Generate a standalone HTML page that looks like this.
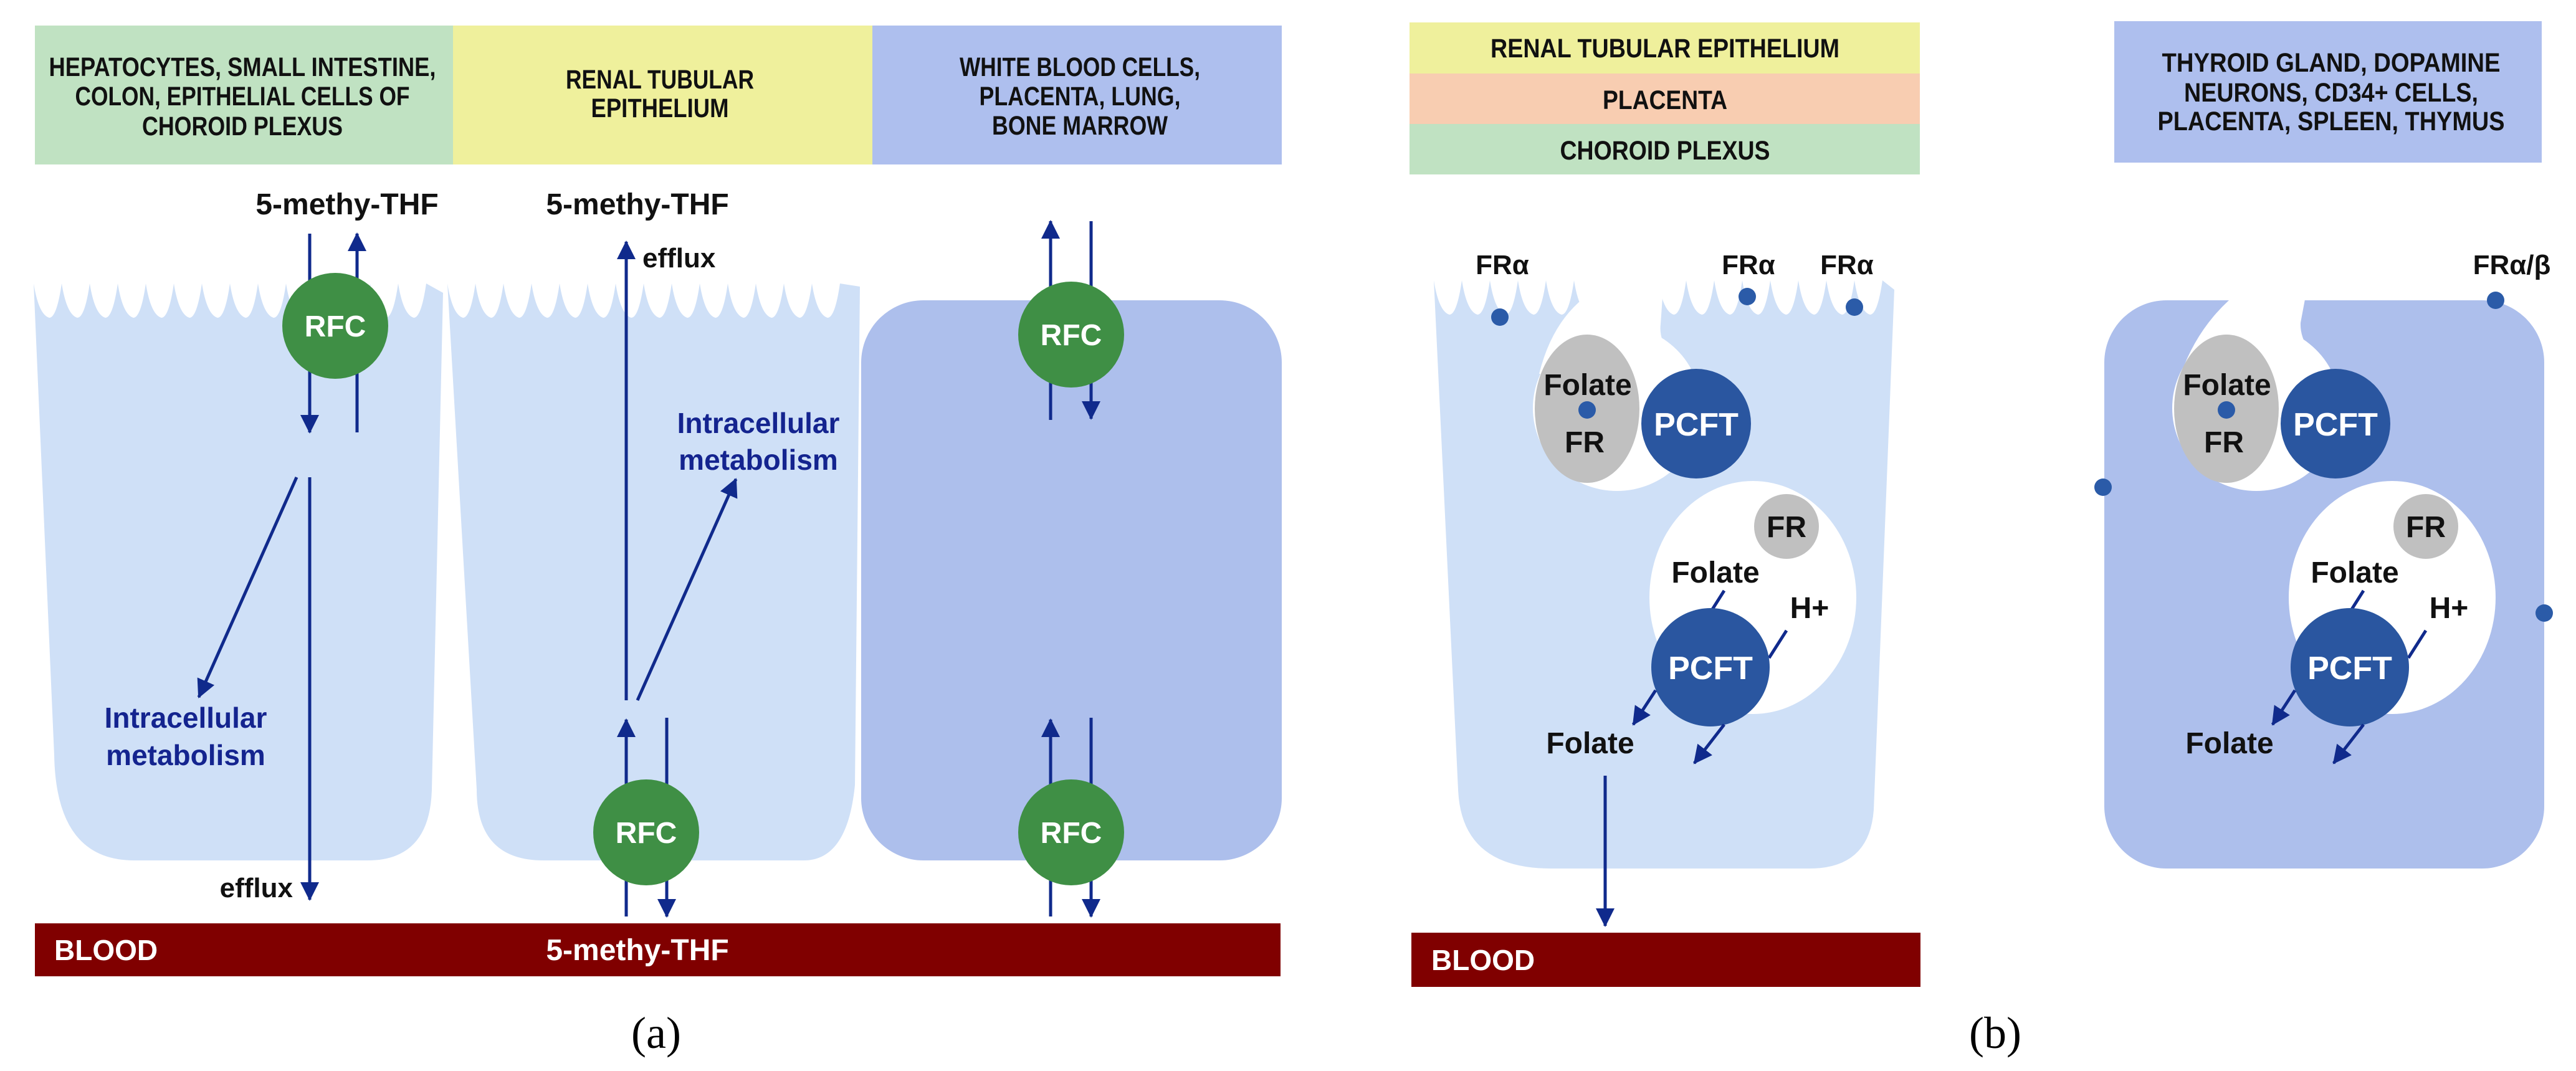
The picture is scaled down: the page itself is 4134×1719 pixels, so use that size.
<!DOCTYPE html>
<html><head><meta charset="utf-8"><style>
html,body{margin:0;padding:0;background:#fff;}
svg{display:block;}
text{font-family:"Liberation Sans Narrow","Liberation Sans",sans-serif;font-weight:bold;text-anchor:middle;}
.h{font-size:43px;fill:#111;}
.m{font-size:48px;fill:#111;}
.w{fill:#fff;}
.n{fill:#14248f;font-size:46px;}
.s{font-family:"Liberation Serif",serif;font-weight:normal;font-size:72px;fill:#000;}
</style></head><body>
<svg width="4134" height="1719" viewBox="0 0 4134 1719" xmlns="http://www.w3.org/2000/svg">
<defs>
<marker id="ah" markerUnits="userSpaceOnUse" markerWidth="30" markerHeight="34" refX="28" refY="15" orient="auto">
<path d="M0,0 L30,15 L0,30 Z" fill="#102a8c"/>
</marker>
</defs>
<g stroke="none">
<rect x="56" y="41" width="671" height="223" fill="#c0e2c2"/>
<rect x="727" y="41" width="673" height="223" fill="#eff09c"/>
<rect x="1400" y="41" width="657" height="223" fill="#aebfee"/>
</g>
<text class="h" x="389" y="122" textLength="621" lengthAdjust="spacingAndGlyphs">HEPATOCYTES, SMALL INTESTINE,</text>
<text class="h" x="389" y="169" textLength="537" lengthAdjust="spacingAndGlyphs">COLON, EPITHELIAL CELLS OF</text>
<text class="h" x="389" y="217" textLength="322" lengthAdjust="spacingAndGlyphs">CHOROID PLEXUS</text>
<text class="h" x="1059" y="142" textLength="302" lengthAdjust="spacingAndGlyphs">RENAL TUBULAR</text>
<text class="h" x="1059" y="188" textLength="221" lengthAdjust="spacingAndGlyphs">EPITHELIUM</text>
<text class="h" x="1733" y="122" textLength="386" lengthAdjust="spacingAndGlyphs">WHITE BLOOD CELLS,</text>
<text class="h" x="1733" y="169" textLength="323" lengthAdjust="spacingAndGlyphs">PLACENTA, LUNG,</text>
<text class="h" x="1733" y="216" textLength="282" lengthAdjust="spacingAndGlyphs">BONE MARROW</text>

<path fill="#cfe0f7" d="M54,455 q 8,50 25,55 q 12,0 20,-55 q 8,50 25,55 q 12,0 20,-55 q 8,50 25,55 q 12,0 20,-55 q 8,50 25,55 q 12,0 20,-55 q 8,50 25,55 q 12,0 20,-55 q 8,50 25,55 q 12,0 20,-55 q 8,50 25,55 q 12,0 20,-55 q 8,50 25,55 q 12,0 20,-55 q 8,50 25,55 q 12,0 20,-55 q 8,50 25,55 q 12,0 20,-55 q 8,50 25,55 q 12,0 20,-55 q 8,50 25,55 q 12,0 20,-55 q 8,50 25,55 q 12,0 20,-55 q 8,50 25,55 q 12,0 20,-55 L711,470 L693,1267 Q690,1381 590,1381 L215,1381 Q90,1381 87,1212 Z"/>
<path fill="#cfe0f7" d="M718,455 q 8,50 25,55 q 12,0 20,-55 q 8,50 25,55 q 12,0 20,-55 q 8,50 25,55 q 12,0 20,-55 q 8,50 25,55 q 12,0 20,-55 q 8,50 25,55 q 12,0 20,-55 q 8,50 25,55 q 12,0 20,-55 q 8,50 25,55 q 12,0 20,-55 q 8,50 25,55 q 12,0 20,-55 q 8,50 25,55 q 12,0 20,-55 q 8,50 25,55 q 12,0 20,-55 q 8,50 25,55 q 12,0 20,-55 q 8,50 25,55 q 12,0 20,-55 q 8,50 25,55 q 12,0 20,-55 q 8,50 25,55 q 12,0 20,-55 L1380,460 L1372,1260 Q1360,1381 1290,1381 L872,1381 Q765,1381 765,1267 Z"/>
<rect x="1382" y="482" width="675" height="899" rx="100" fill="#adbfec"/>

<rect x="56" y="1482" width="1999" height="85" fill="#800000"/>
<text class="w" x="87" y="1541" style="text-anchor:start;font-size:46px">BLOOD</text>
<text class="w" x="1023" y="1541" style="font-size:48px">5-methy-THF</text>

<text class="m" x="557" y="344">5-methy-THF</text>
<text class="m" x="1023" y="344">5-methy-THF</text>

<g stroke="#102a8c" stroke-width="5" fill="none" marker-end="url(#ah)">
<line x1="497" y1="375" x2="497" y2="694"/>
<line x1="573" y1="694" x2="573" y2="375"/>
<line x1="497" y1="766" x2="497" y2="1444"/>
<line x1="476" y1="766" x2="319" y2="1119"/>
<line x1="1005" y1="1124" x2="1005" y2="388"/>
<line x1="1023" y1="1124" x2="1181" y2="769"/>
<line x1="1005" y1="1471" x2="1005" y2="1155"/>
<line x1="1070" y1="1152" x2="1070" y2="1471"/>
<line x1="1686" y1="674" x2="1686" y2="355"/>
<line x1="1751" y1="355" x2="1751" y2="672"/>
<line x1="1686" y1="1471" x2="1686" y2="1155"/>
<line x1="1751" y1="1152" x2="1751" y2="1471"/>
</g>

<g fill="#3f8f45">
<circle cx="538" cy="523" r="85"/>
<circle cx="1037" cy="1336" r="85"/>
<circle cx="1719" cy="537" r="85"/>
<circle cx="1719" cy="1336" r="85"/>
</g>
<text class="w" x="538" y="540" style="font-size:48px">RFC</text>
<text class="w" x="1037" y="1353" style="font-size:48px">RFC</text>
<text class="w" x="1719" y="554" style="font-size:48px">RFC</text>
<text class="w" x="1719" y="1353" style="font-size:48px">RFC</text>

<text class="n" x="298" y="1168">Intracellular</text>
<text class="n" x="298" y="1228">metabolism</text>
<text class="n" x="1217" y="695">Intracellular</text>
<text class="n" x="1217" y="754">metabolism</text>
<text class="m" x="470" y="1440" style="text-anchor:end;font-size:44px">efflux</text>
<text class="m" x="1031" y="429" style="text-anchor:start;font-size:44px">efflux</text>

<text class="s" x="1053" y="1682">(a)</text>

<rect x="2262" y="36" width="819" height="82" fill="#eff09c"/>
<rect x="2262" y="118" width="819" height="81" fill="#f8cdb1"/>
<rect x="2262" y="199" width="819" height="81" fill="#c0e2c2"/>
<text class="h" x="2672" y="92" textLength="560" lengthAdjust="spacingAndGlyphs">RENAL TUBULAR EPITHELIUM</text>
<text class="h" x="2672" y="175" textLength="200" lengthAdjust="spacingAndGlyphs">PLACENTA</text>
<text class="h" x="2672" y="256" textLength="337" lengthAdjust="spacingAndGlyphs">CHOROID PLEXUS</text>
<rect x="3393" y="34" width="686" height="227" fill="#aebfee"/>
<text class="h" x="3741" y="115" textLength="543" lengthAdjust="spacingAndGlyphs">THYROID GLAND, DOPAMINE</text>
<text class="h" x="3741" y="163" textLength="472" lengthAdjust="spacingAndGlyphs">NEURONS, CD34+ CELLS,</text>
<text class="h" x="3741" y="209" textLength="557" lengthAdjust="spacingAndGlyphs">PLACENTA, SPLEEN, THYMUS</text>

<path fill="#cfe0f7" d="M2301,450 q 8,50 25,55 q 12,0 20,-55 q 8,50 25,55 q 12,0 20,-55 q 8,50 25,55 q 12,0 20,-55 q 8,50 25,55 q 12,0 20,-55 q 8,50 25,55 q 12,0 20,-55 q 8,50 25,55 q 12,0 20,-55 q 8,50 25,55 q 12,0 20,-55 q 8,50 25,55 q 12,0 20,-55 q 8,50 25,55 q 12,0 20,-55 q 8,50 25,55 q 12,0 20,-55 q 8,50 25,55 q 12,0 20,-55 q 8,50 25,55 q 12,0 20,-55 q 8,50 25,55 q 12,0 20,-55 q 8,50 25,55 q 12,0 20,-55 q 8,50 25,55 q 12,0 20,-55 q 8,50 25,55 q 12,0 20,-55 L3040,465 L3007,1300 Q3000,1394 2904,1394 L2489,1394 Q2345,1394 2340,1267 Z"/>
<path fill="#fff" d="M2541,420 L2541,479 Q2490,520 2470,600 L2712,600 Q2660,560 2665,520 L2672,420 Z"/>
<ellipse cx="2595" cy="655" rx="135" ry="133" fill="#fff"/>

<rect x="3377" y="482" width="706" height="912" rx="100" fill="#adbfec"/>
<path fill="#fff" d="M3577,470 L3577,482 Q3525,530 3500,600 L3745,600 Q3690,560 3692,518 L3701,470 Z"/>
<ellipse cx="3621" cy="655" rx="135" ry="133" fill="#fff"/>

<g id="inner">
<ellipse cx="2547" cy="656" rx="84" ry="119" fill="#c0c0c0"/>
<circle cx="2547" cy="658" r="14" fill="#2b5ba8"/>
<text class="m" x="2548" y="634">Folate</text>
<text class="m" x="2543" y="726">FR</text>
<circle cx="2722" cy="680" r="88" fill="#2a56a0"/>
<text class="w" x="2722" y="699" style="font-size:52px">PCFT</text>
<ellipse cx="2813" cy="959" rx="166" ry="187" fill="#fff"/>
<circle cx="2867" cy="845" r="52" fill="#c0c0c0"/>
<text class="m" x="2867" y="862">FR</text>
<text class="m" x="2753" y="935">Folate</text>
<text class="m" x="2904" y="992">H+</text>
<g stroke="#102a8c" stroke-width="5">
<line x1="2767" y1="948" x2="2748" y2="978"/>
<line x1="2867" y1="1012" x2="2839" y2="1056"/>
</g>
<circle cx="2745" cy="1071" r="95" fill="#2a56a0"/>
<text class="w" x="2745" y="1090" style="font-size:52px">PCFT</text>
<g stroke="#102a8c" stroke-width="5" marker-end="url(#ah)">
<line x1="2657" y1="1108" x2="2621" y2="1163"/>
<line x1="2767" y1="1163" x2="2719" y2="1225"/>
</g>
<text class="m" x="2552" y="1209">Folate</text>
</g>
<use href="#inner" transform="translate(1026,0)"/>

<line x1="2576" y1="1245" x2="2576" y2="1486" stroke="#102a8c" stroke-width="5" marker-end="url(#ah)"/>

<g fill="#2b5ba8">
<circle cx="2407" cy="509" r="14"/>
<circle cx="2804" cy="476" r="14"/>
<circle cx="2976" cy="493" r="14"/>
<circle cx="4005" cy="482" r="14"/>
<circle cx="3375" cy="782" r="14"/>
<circle cx="4083" cy="984" r="14"/>
</g>
<text class="m" x="2411" y="440" style="font-size:44px">FRα</text>
<text class="m" x="2806" y="440" style="font-size:44px">FRα</text>
<text class="m" x="2964" y="440" style="font-size:44px">FRα</text>
<text class="m" x="4031" y="440" style="font-size:44px">FRα/β</text>

<rect x="2265" y="1497" width="817" height="87" fill="#800000"/>
<text class="w" x="2297" y="1557" style="text-anchor:start;font-size:46px">BLOOD</text>

<text class="s" x="3202" y="1682">(b)</text>
</svg>
</body></html>
